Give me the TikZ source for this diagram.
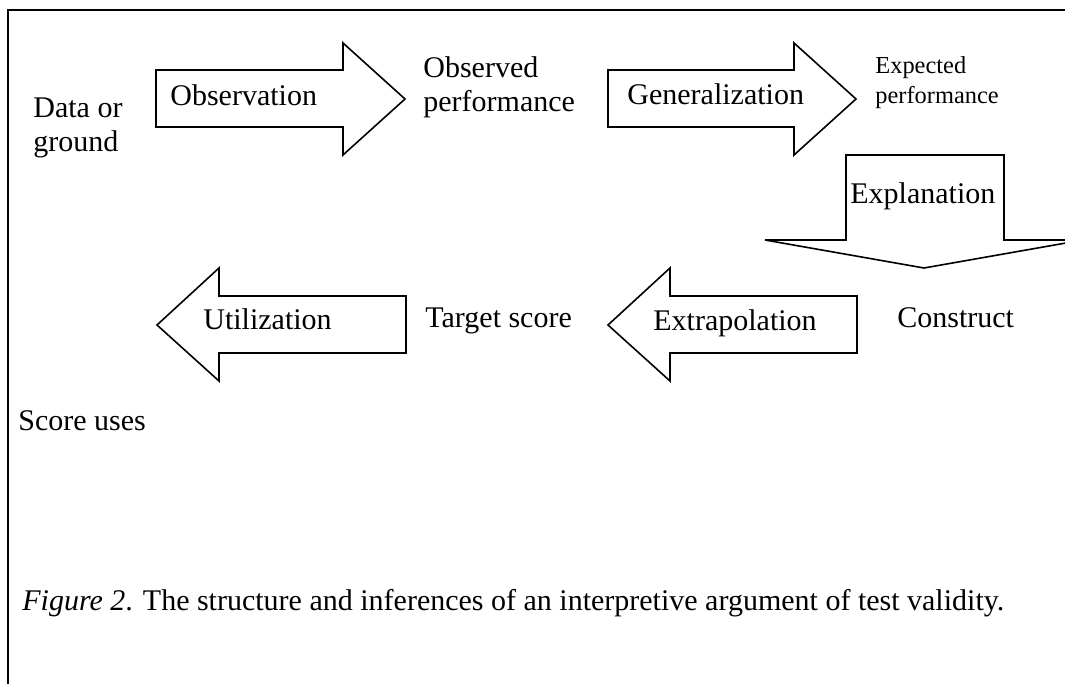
\documentclass[tikz,border=0pt]{standalone}
\usepackage{fontspec}
\setmainfont{Liberation Serif}
\usepackage{tikz}
\usetikzlibrary{positioning}
\tikzset{
  lbl/.style={inner sep=0pt, align=left, font=\fontsize{15}{17}\selectfont},
  smalllbl/.style={inner sep=0pt, align=left, font=\fontsize{12.2}{15}\selectfont},
  blockarrow/.style={draw=black, line width=0.8pt, line join=miter, fill=white},
  frameline/.style={draw=black, line width=1pt}
}

\begin{document}
\begin{tikzpicture}[x=0.5pt, y=-0.5pt]
  \useasboundingbox (0,0) rectangle (1065,684);
  \clip (0,0) rectangle (1065,684);

  % frame (only top and left edges show)
  \draw[frameline] (8,720) -- (8,10) -- (1100,10);

  % block arrows, top row
  \draw[blockarrow] (156,70) -- (343,70) -- (343,43) -- (405,99) -- (343,155) -- (343,127) -- (156,127) -- cycle;
  \draw[blockarrow] (608,70) -- (794,70) -- (794,43) -- (856,99) -- (794,155) -- (794,127) -- (608,127) -- cycle;

  % down arrow on the right
  \draw[blockarrow] (846,155) -- (1004,155) -- (1004,240) -- (1083,240) -- (924,268) -- (765,240) -- (846,240) -- cycle;

  % block arrows, bottom row
  \draw[blockarrow] (857,296) -- (670,296) -- (670,268) -- (608,325) -- (670,381) -- (670,353) -- (857,353) -- cycle;
  \draw[blockarrow] (406,296) -- (219,296) -- (219,268) -- (157,325) -- (219,381) -- (219,353) -- (406,353) -- cycle;

  % stages
  \node[lbl, anchor=north west] (data) at (33,97) {Data or\\ground};
  \node[lbl, anchor=north west] (obsperf) at (423,56) {Observed\\performance};
  \node[smalllbl, anchor=north west] (expperf) at (875,56) {Expected\\performance};
  \node[lbl, anchor=base west] (construct) at (897,327) {Construct};
  \node[lbl, anchor=base west] (target) at (425,328) {Target score};
  \node[lbl, anchor=base west] (uses) at (18,430) {Score uses};

  % inferences on the arrows
  \node[lbl, anchor=base west] (obs) at (170,106) {Observation};
  \node[lbl, anchor=base west] (gen) at (627,105) {Generalization};
  \node[lbl, anchor=base west] (expl) at (850,204) {Explanation};
  \node[lbl, anchor=base west] (extra) at (653,330) {Extrapolation};
  \node[lbl, anchor=base west] (util) at (203,329) {Utilization};

  % caption
  \node[lbl, anchor=base west] (caption) at (22,610) {\textit{Figure 2}. The structure and inferences of an interpretive argument of test validity.};
\end{tikzpicture}
\end{document}
